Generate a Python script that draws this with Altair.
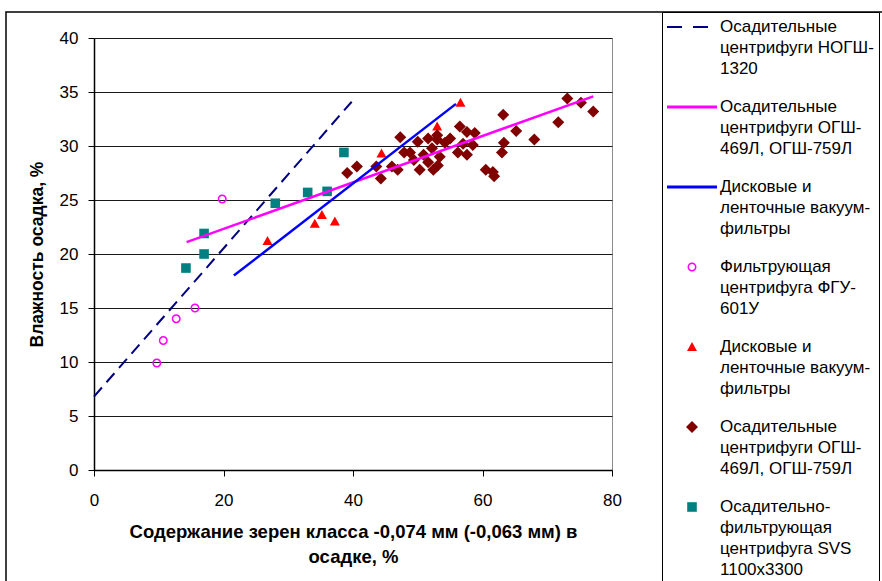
import altair as alt
import pandas as pd

# ---- series (legend) labels; "|" marks line breaks ----
L1 = "Осадительные|центрифуги НОГШ-|1320"
L2 = "Осадительные|центрифуги ОГШ-|469Л, ОГШ-759Л "
L3 = "Дисковые и|ленточные вакуум-|фильтры "
P1 = "Фильтрующая|центрифуга ФГУ-|601У"
P2 = "Дисковые и|ленточные вакуум-|фильтры"
P3 = "Осадительные|центрифуги ОГШ-|469Л, ОГШ-759Л"
P4 = "Осадительно-|фильтрующая|центрифуга SVS|1100x3300"
series = [L1, L2, L3, P1, P2, P3, P4]
colors = ["#000080", "#FF00FF", "#0000FF", "#FF00FF", "#FF0000", "#800000", "#008080"]
# symbol paths (10 px per unit at size 400)
shapes = [
    "M-2.5,-0.1L-1,-0.1L-1,0.1L-2.5,0.1ZM0.1,-0.1L1.6,-0.1L1.6,0.1L0.1,0.1Z",
    "M-2.5,-0.15L2.5,-0.15L2.5,0.15L-2.5,0.15Z",
    "M-2.5,-0.15L2.5,-0.15L2.5,0.15L-2.5,0.15Z",
    "M-0.45,0A0.45,0.45,0,1,0,0.45,0A0.45,0.45,0,1,0,-0.45,0Z"
    "M-0.3,0A0.3,0.3,0,1,1,0.3,0A0.3,0.3,0,1,1,-0.3,0Z",
    "M0,-0.5L0.5,0.4L-0.5,0.4Z",
    "M0,-0.6L0.6,0L0,0.6L-0.6,0Z",
    "M-0.48,-0.48L0.48,-0.48L0.48,0.48L-0.48,0.48Z",
]

# ---- trend lines ----
l1_x = [0.0, 39.8]
l1_y = [6.8, 34.1]
l2_x = [14.3, 77.1]
l2_y = [21.1, 34.6]
l3_x = [21.6, 55.9]
l3_y = [18.0, 33.9]

# ---- scatter series ----
p1_x = [9.7, 10.7, 12.7, 15.6, 19.8]
p1_y = [9.9, 12.0, 14.0, 15.0, 25.1]

p2_x = [26.8, 34.1, 35.2, 37.2, 44.4, 53.0, 56.6]
p2_y = [21.2, 22.8, 23.6, 23.0, 29.3, 31.8, 34.0]

p3_x = [39.1, 40.6, 43.6, 44.3, 46.0, 46.9, 47.3, 47.9, 48.8, 49.4, 50.0, 50.3,
        50.9, 51.6, 52.2, 51.6, 52.4, 53.0, 53.0, 53.4, 53.1, 54.2, 55.0, 56.2,
        56.5, 57.0, 57.6, 57.6, 58.5, 58.8, 60.5, 61.6, 61.8, 63.0, 63.3, 63.2,
        65.2, 68.0, 71.7, 73.1, 75.2, 77.1]
p3_y = [27.5, 28.1, 28.1, 27.0, 28.1, 27.8, 30.8, 29.4, 29.4, 28.7, 30.4, 27.8,
        29.2, 30.7, 29.8, 28.5, 27.8, 31.0, 30.6, 29.0, 28.2, 30.3, 30.7, 29.4,
        31.8, 30.2, 31.3, 29.2, 30.1, 31.2, 27.8, 27.6, 27.2, 29.4, 30.3, 32.9,
        31.4, 30.6, 32.2, 34.4, 34.0, 33.2]

p4_x = [14.2, 17.0, 17.0, 28.0, 33.0, 36.0, 38.6]
p4_y = [18.7, 21.9, 20.0, 24.7, 25.7, 25.8, 29.4]

x_ticks = [0, 20, 40, 60, 80]
y_ticks = [0, 5, 10, 15, 20, 25, 30, 35, 40]
x_title = ["Содержание зерен класса -0,074 мм (-0,063 мм) в", "осадке, %"]
y_title = "Влажность осадка, %"

# ---- tables ----
pts = pd.concat([
    pd.DataFrame({"x": p1_x, "y": p1_y, "series": P1}),
    pd.DataFrame({"x": p2_x, "y": p2_y, "series": P2}),
    pd.DataFrame({"x": p3_x, "y": p3_y, "series": P3}),
    pd.DataFrame({"x": p4_x, "y": p4_y, "series": P4}),
], ignore_index=True)

FONT = "Liberation Sans"

x_enc = alt.X("x:Q", scale=alt.Scale(domain=[0, 80], nice=False),
              axis=alt.Axis(values=x_ticks, grid=False, tickSize=6, tickColor="black",
                            domainColor="black", domainWidth=1.5, labelPadding=16,
                            labelFontSize=17, labelColor="black", labelFlush=False,
                            title=x_title, titleFontSize=18.5, titleFontWeight="bold",
                            titleX=259, titleY=67, titleAlign="center",
                            titleBaseline="alphabetic", titleLineHeight=25))
y_enc = alt.Y("y:Q", scale=alt.Scale(domain=[0, 40], nice=False),
              axis=alt.Axis(values=y_ticks, grid=True, gridColor="#1a1a1a", gridWidth=1.2,
                            tickSize=6, tickColor="black", domainColor="black",
                            domainWidth=1.5, labelPadding=10, labelFontSize=17,
                            labelColor="black", labelFlush=False, title=y_title,
                            titleFontSize=17.5, titleFontWeight="bold", titleX=-57,
                            titleY=216, titleAngle=270, titleAlign="center",
                            titleBaseline="middle"))

legend = alt.Legend(title=None, orient="none", legendX=568, legendY=-26,
                    padding=5, strokeColor="black", fillColor="white",
                    cornerRadius=0, symbolSize=400, symbolStrokeWidth=0,
                    symbolOffset=15, symbolOpacity=1, labelFontSize=17, labelFont=FONT,
                    labelColor="black", labelBaseline="middle", labelOffset=18,
                    labelLimit=400, rowPadding=20,
                    labelExpr="split(datum.label, '|')")

points = alt.Chart(pts).mark_point(filled=True, size=400, opacity=1, strokeWidth=0).encode(
    x=x_enc, y=y_enc,
    color=alt.Color("series:N", scale=alt.Scale(domain=series, range=colors), legend=legend),
    shape=alt.Shape("series:N", scale=alt.Scale(domain=series, range=shapes), legend=legend),
)

def line_layer(xs, ys, color, width, dash=None):
    df = pd.DataFrame({"x": xs, "y": ys})
    kw = dict(color=color, strokeWidth=width)
    if dash:
        kw["strokeDash"] = dash
    return alt.Chart(df).mark_line(**kw).encode(x=x_enc, y=y_enc)

line1 = line_layer(l1_x, l1_y, "#000080", 2, [12, 7])
line2 = line_layer(l2_x, l2_y, "#FF00FF", 2.5)
line3 = line_layer(l3_x, l3_y, "#0000FF", 2.5)

frame = alt.Chart(alt.Data(values=[{"f": 1}])).mark_rect(
    fill="transparent", stroke="black", strokeWidth=1.5
).encode(x=alt.value(-88), x2=alt.value(900), y=alt.value(-26), y2=alt.value(700))

chart = alt.layer(frame, points, line1, line2, line3).properties(
    width=518, height=432,
    padding={"left": 94, "top": 38, "right": 270, "bottom": 111},
    autosize=alt.AutoSizeParams(type="none"),
).configure(
    font=FONT,
    style={"guide-label": {"lineHeight": 21}},
).configure_view(stroke="#8c8c8c", strokeWidth=1)

chart.save("out.html", embed_options={"renderer": "svg", "actions": False})
